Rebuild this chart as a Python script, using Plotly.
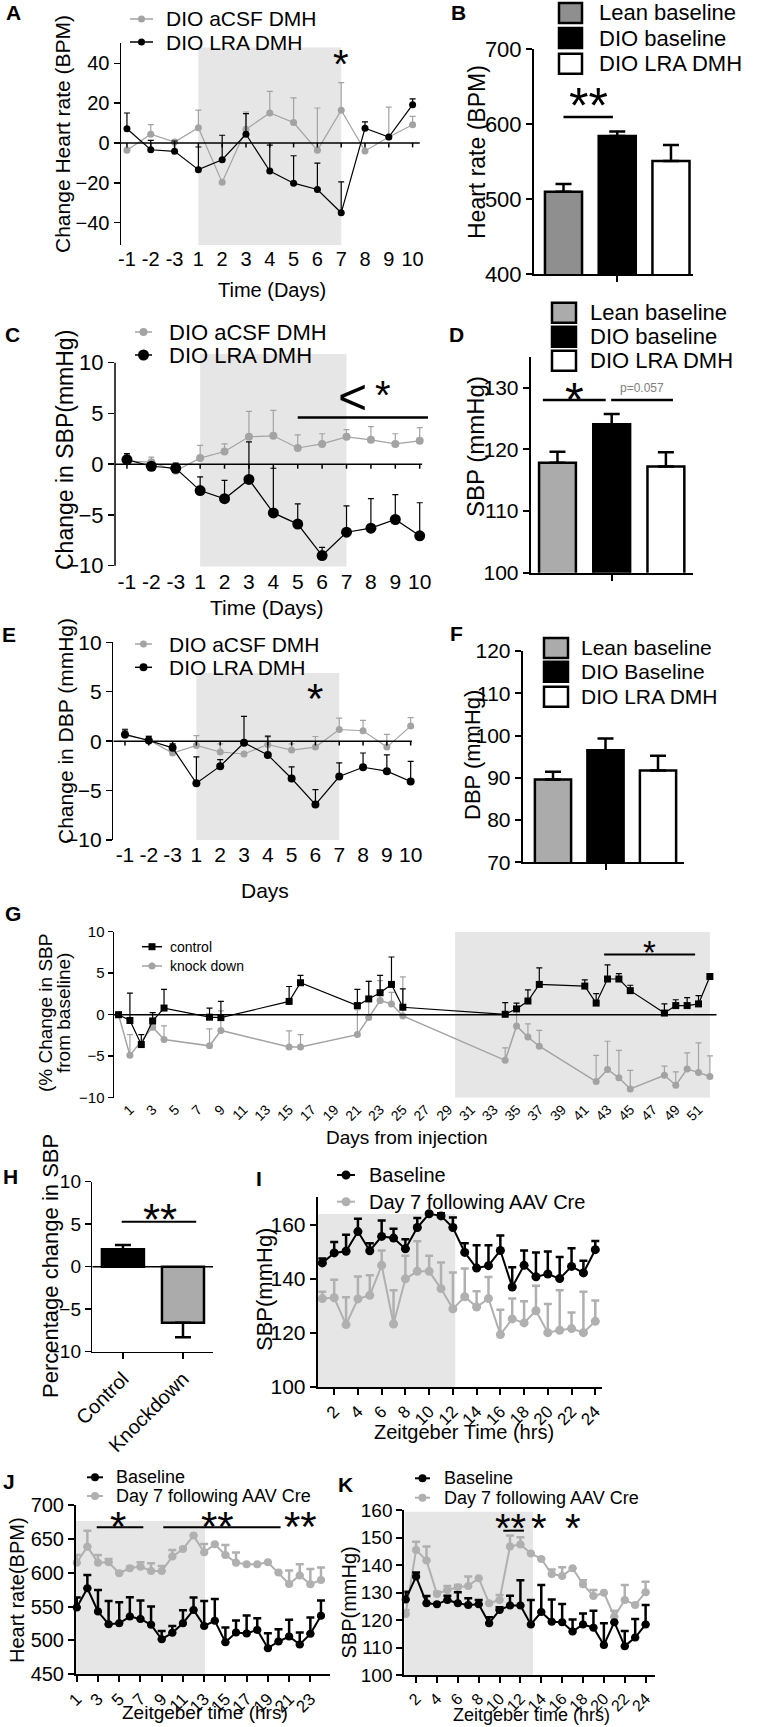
import plotly.graph_objects as go

W, H = 758, 1727
FONT = "Liberation Sans, Arial, Helvetica, sans-serif"
GRAY = "#a3a3a3"
GRAY2 = "#b0b0b0"
GRAYB = "#8f8f8f"
GRAYD = "#ababab"
SHADE = "#e6e6e6"

# ---------------- data ----------------
days_lbl = ["-1", "-2", "-3", "1", "2", "3", "4", "5", "6", "7", "8", "9", "10"]

# A: change in heart rate (BPM)
a_acsf = [-3.7, 4.4, 0.5, 7.7, -19.8, 6.9, 15.1, 10.3, -3.7, 16.5, -4.0, 3.0, 9.2]
a_acsf_sem = [1.0, 4.8, 1.0, 8.8, 0.0, 8.7, 10.9, 12.4, 21.3, 13.9, 0.0, 15.0, 4.2]
a_lra = [7.2, -3.4, -4.2, -13.4, -8.4, 4.4, -14.1, -20.2, -23.4, -35.1, 7.4, 3.0, 19.3]
a_lra_sem = [7.9, 4.7, 5.2, 11.4, 12.3, 10.4, 13.0, 13.8, 13.3, 15.6, 3.2, 0.0, 2.9]

# B: heart rate bars
b_groups = ["Lean baseline", "DIO baseline", "DIO LRA DMH"]
b_vals = [509.7, 584.0, 550.7]
b_sem = [10.3, 6.0, 21.3]

# C: change in SBP
c_acsf = [0.3, 0.2, -0.65, 0.6, 1.25, 2.7, 2.8, 1.6, 2.0, 2.7, 2.4, 2.0, 2.3]
c_acsf_sem = [0.7, 0.5, 0.0, 1.25, 0.75, 2.5, 2.5, 1.3, 1.0, 0.7, 1.3, 1.0, 1.3]
c_lra = [0.45, -0.2, -0.4, -2.6, -3.4, -1.5, -4.8, -5.9, -9.0, -6.7, -6.3, -5.45, -7.06]
c_lra_sem = [0.6, 0.2, 0.5, 1.35, 1.8, 3.7, 4.4, 2.0, 0.8, 2.6, 2.9, 2.45, 3.26]

# D: SBP bars
d_groups = ["Lean baseline", "DIO baseline", "DIO LRA DMH"]
d_vals = [117.8, 124.05, 117.2]
d_sem = [1.8, 1.65, 2.3]

# E: change in DBP
e_acsf = [0.57, 0.13, -1.2, -0.44, -1.1, -1.3, -0.34, -0.9, -0.6, 1.18, 1.05, -0.6, 1.52]
e_acsf_sem = [0.68, 0.44, 0.0, 1.0, 0.83, 0.0, 0.74, 0.63, 1.07, 1.15, 1.05, 1.28, 0.85]
e_lra = [0.68, 0.07, -0.68, -4.26, -2.53, -0.17, -1.39, -3.78, -6.42, -3.58, -2.64, -3.04, -4.08]
e_lra_sem = [0.47, 0.4, 0.41, 2.66, 0.67, 2.67, 1.89, 1.18, 1.52, 1.38, 1.44, 1.66, 2.03]

# F: DBP bars
f_groups = ["Lean baseline", "DIO Baseline", "DIO LRA DMH"]
f_vals = [89.6, 96.5, 91.7]
f_sem = [1.8, 2.8, 3.5]

# G: % change in SBP from baseline
g_ticks = list(range(1, 52, 2))
g_ctrl_days = [0, 1, 2, 3, 4, 8, 9, 15, 16, 21, 22, 23, 24, 25, 34, 35, 36, 37, 41, 42, 43, 44, 45, 48, 49, 50, 51, 52]
g_ctrl = [0, -0.7, -3.6, -0.75, 0.8, -0.3, -0.35, 1.6, 3.85, 1.1, 1.9, 2.65, 3.65, 0.9, 0.05, 0.7, 1.65, 3.65,
          3.45, 1.4, 4.3, 4.3, 2.9, 0.2, 1.1, 1.1, 1.3, 4.6]
g_ctrl_hi = [0, 2.6, -2.4, 0.25, 3.05, 0.8, 1.6, 3.4, 4.75, 3.05, 4.0, 4.75, 6.95, 3.1, 1.45, 1.4, 3.0, 5.65,
             4.2, 2.55, 6.0, 4.95, 3.55, 1.3, 1.8, 2.05, 2.3, 4.6]
g_kd_days = [0, 1, 3, 4, 8, 9, 15, 16, 21, 22, 23, 24, 25, 34, 35, 36, 37, 42, 43, 44, 45, 48, 49, 50, 51, 52]
g_kd = [0, -4.9, -1.5, -3.0, -3.75, -1.9, -3.9, -3.9, -2.4, -0.35, 1.7, 1.3, -0.15, -5.5, -1.35, -2.7, -3.8,
        -8.05, -6.6, -7.6, -8.95, -7.3, -8.5, -6.55, -6.95, -7.45]
g_kd_hi = [0, -2.4, -1.2, -1.35, -1.7, 0.45, -1.95, -2.4, 0.6, 4.1, 4.1, 2.7, 4.55, -4.0, 0.9, -1.1, -1.9,
           -4.9, -3.2, -4.3, -6.7, -6.2, -6.9, -4.6, -3.4, -4.95]

# H: percentage change bars
h_groups = ["Control", "Knockdown"]
h_vals = [2.05, -6.6]
h_sem = [0.5, 1.7]

# I, J, K: zeitgeber time series
zt = list(range(1, 25))
i_base = [145.9, 149.6, 150.2, 157.5, 150.4, 155.7, 155.1, 151.1, 159.0, 164.1, 163.3, 159.0,
          149.8, 144.0, 144.9, 150.5, 137.0, 145.0, 140.8, 141.8, 140.1, 144.6, 142.2, 150.8]
i_base_hi = [147.5, 153.6, 156.3, 162.2, 153.2, 161.6, 158.5, 154.7, 162.5, 164.5, 164.3, 162.7,
             153.2, 152.4, 152.4, 156.0, 144.3, 150.5, 149.8, 150.1, 148.1, 151.3, 146.7, 154.0]
i_aav = [132.7, 133.0, 123.1, 132.6, 133.9, 145.0, 123.3, 140.0, 142.8, 142.8, 136.4, 128.9,
         133.4, 129.6, 132.7, 119.4, 125.2, 123.7, 128.2, 120.1, 121.0, 121.6, 120.1, 124.3]
i_aav_hi = [135.2, 139.7, 133.2, 140.9, 141.3, 150.5, 135.8, 148.6, 153.9, 148.6, 146.1, 142.4,
            143.8, 135.4, 140.7, 128.6, 132.7, 131.7, 137.5, 130.7, 135.8, 127.6, 135.2, 132.0]

j_base = [548.6, 577.1, 542.7, 524.0, 525.4, 535.3, 531.8, 523.0, 501.8, 511.2, 525.4, 545.1,
          521.5, 528.9, 497.4, 511.7, 510.2, 515.6, 488.6, 498.4, 505.8, 494.0, 509.7, 536.3]
j_base_hi = [563.3, 596.7, 574.6, 558.4, 556.4, 563.8, 558.9, 550.0, 514.1, 521.5, 544.6, 563.3,
             558.4, 561.3, 519.1, 529.4, 536.8, 532.9, 510.7, 516.6, 530.4, 511.7, 533.8, 558.9]
j_aav = [614.9, 638.5, 614.9, 615.4, 599.2, 606.6, 609.0, 602.6, 602.6, 623.8, 635.1, 654.8,
         630.2, 642.0, 626.2, 614.9, 612.5, 612.5, 615.4, 600.2, 583.5, 595.8, 583.0, 589.4]
j_aav_hi = [626.2, 662.1, 626.2, 620.3, 602.0, 609.0, 615.4, 614.0, 610.0, 633.6, 637.0, 654.8,
            642.5, 642.0, 641.0, 629.7, 612.5, 612.5, 615.4, 600.2, 603.1, 612.5, 605.6, 607.6]

k_base = [127.5, 135.8, 126.1, 125.7, 127.3, 126.1, 125.5, 125.7, 118.8, 123.6, 125.3, 125.3,
          118.4, 122.9, 119.4, 119.2, 115.8, 118.4, 117.2, 110.9, 119.2, 110.5, 113.6, 118.4]
k_base_hi = [130.3, 137.3, 128.7, 125.7, 128.8, 130.1, 127.9, 127.3, 121.0, 124.6, 128.8, 134.5,
             127.3, 132.7, 127.5, 125.8, 120.2, 122.4, 123.4, 118.8, 119.2, 116.0, 120.4, 125.5]
k_aav = [122.2, 145.5, 141.6, 129.5, 130.9, 131.9, 132.4, 135.2, 126.1, 127.3, 146.7, 147.5,
         144.2, 142.2, 136.7, 136.0, 138.8, 133.0, 128.7, 129.9, 121.2, 127.3, 125.5, 130.1]
k_aav_hi = [123.6, 148.5, 146.7, 130.3, 132.4, 132.7, 135.8, 135.2, 126.1, 129.1, 150.7, 150.1,
            144.2, 142.2, 138.4, 139.2, 138.8, 134.5, 130.9, 129.9, 123.4, 132.7, 126.1, 133.9]

# ---------------- helpers ----------------
day_idx = list(range(len(days_lbl)))

fig = go.Figure()
layout = dict(template="none", width=W, height=H, autosize=False,
              margin=dict(l=0, r=0, t=0, b=0, pad=0, autoexpand=False),
              paper_bgcolor="white", plot_bgcolor="rgba(0,0,0,0)",
              showlegend=False, font=dict(family=FONT, color="black", size=16))
shapes, annots = [], []


def sfx(n):
    return "" if n == 1 else str(n)


def X(n):
    return "x" + sfx(n)


def Y(n):
    return "y" + sfx(n)


def axes(n, box, xr, yr, yfont, xkw=None, ykw=None, lw=1.5):
    l, r, t, b = box
    xa = dict(domain=[l / W, r / W], range=xr, anchor=Y(n), showgrid=False, automargin=False,
              zeroline=False, showline=False, ticks="", showticklabels=False,
              linecolor="black", tickcolor="black", linewidth=lw, tickwidth=lw,
              tickfont=dict(size=18, color="black", family=FONT))
    ya = dict(domain=[1 - b / H, 1 - t / H], range=yr, anchor=X(n), showgrid=False, automargin=False,
              zeroline=False, showline=True, linecolor="black", linewidth=lw,
              ticks="outside", ticklen=6, tickwidth=lw, tickcolor="black",
              tickmode="array", tickfont=dict(size=yfont, color="black", family=FONT))
    if xkw:
        xa.update(xkw)
    if ykw:
        ya.update(ykw)
    layout["xaxis" + sfx(n)] = xa
    layout["yaxis" + sfx(n)] = ya


def txt(s, x, y, size, xa="center", ya="middle", angle=0, color="black", bold=False, ref=None, yshift=0):
    if ref is None:
        xr_, yr_, xx, yy = "paper", "paper", x / W, 1 - y / H
    else:
        xr_, yr_, xx, yy = X(ref), Y(ref), x, y
    if bold:
        s = "<b>" + s + "</b>"
    annots.append(dict(text=s, x=xx, y=yy, xref=xr_, yref=yr_, xanchor=xa, yanchor=ya,
                       textangle=angle, showarrow=False, yshift=yshift, borderpad=0,
                       font=dict(size=size, color=color, family=FONT)))


def star(n, x, y, s, size):
    txt(s, x, y, size, ref=n, yshift=-0.23 * size)


def dline(n, x0, y0, x1, y1, w=1.5, color="black", xref=None):
    shapes.append(dict(type="line", xref=xref or X(n), yref=Y(n), x0=x0, y0=y0, x1=x1, y1=y1,
                       line=dict(color=color, width=w)))


def shade(n, x0, x1, y0, y1):
    shapes.append(dict(type="rect", layer="below", xref=X(n), yref=Y(n), x0=x0, x1=x1, y0=y0, y1=y1,
                       fillcolor=SHADE, line=dict(width=0)))


def zero_axis(n, x0, x1, ticks, tlen, w=1.5):
    dline(n, x0, 0, x1, 0, w)
    for t in ticks:
        dline(n, t, 0, t, -tlen, w)


def leg_line(x0, x1, y, color, msize, label, tx, size, symbol="circle", lw=1.5):
    shapes.append(dict(type="line", xref="paper", yref="paper", x0=x0 / W, x1=x1 / W,
                       y0=1 - y / H, y1=1 - y / H, line=dict(color=color, width=lw)))
    xc, r = (x0 + x1) / 2, msize / 2
    shapes.append(dict(type="circle" if symbol == "circle" else "rect", xref="paper", yref="paper",
                       x0=(xc - r) / W, x1=(xc + r) / W, y0=1 - (y + r) / H, y1=1 - (y - r) / H,
                       fillcolor=color, line=dict(color=color, width=0)))
    txt(label, tx, y, size, xa="left")


def leg_box(x0, x1, yc, h, fill, label, tx, size):
    shapes.append(dict(type="rect", xref="paper", yref="paper", x0=x0 / W, x1=x1 / W,
                       y0=1 - (yc + h / 2) / H, y1=1 - (yc - h / 2) / H,
                       fillcolor=fill, line=dict(color="black", width=2.5)))
    txt(label, tx, yc, size, xa="left")


def series(n, x, y, err, color, msize, lw=1.2, symbol="circle", et=1.2, ew=3):
    fig.add_trace(go.Scatter(
        x=x, y=y, xaxis=X(n), yaxis=Y(n), mode="lines+markers",
        line=dict(color=color, width=lw),
        marker=dict(color=color, size=msize, symbol=symbol, line=dict(width=0)),
        error_y=dict(type="data", symmetric=False, array=err, arrayminus=[0] * len(err),
                     color=color, thickness=et, width=ew),
        cliponaxis=False, hoverinfo="skip"))


def bars(n, vals, up, colors, width, down=None, lw=2.5):
    xs = list(range(len(vals)))
    fig.add_trace(go.Bar(
        x=xs, y=vals, xaxis=X(n), yaxis=Y(n), width=width,
        marker=dict(color=colors, line=dict(color="black", width=lw)),
        error_y=dict(type="data", symmetric=False, array=up,
                     arrayminus=down if down else [0] * len(vals),
                     color="black", thickness=lw, width=8),
        hoverinfo="skip"))


def err_from_hi(hi, vals):
    return [max(h - v, 0) for h, v in zip(hi, vals)]


def bar_x(extra=None):
    d = dict(showline=True, ticks="outside", ticklen=6, tickvals=[1], showticklabels=False)
    if extra:
        d.update(extra)
    return d


# ---------------- Panel A ----------------
axes(1, (121, 420, 43, 245), [-0.25, 12.31], [-51.3, 50.3], 20,
     xkw=dict(showticklabels=True, tickmode="array", tickvals=day_idx, ticktext=days_lbl,
              tickangle=0, tickfont=dict(size=20, family=FONT, color="black")),
     ykw=dict(tickvals=[-40, -20, 0, 20, 40]))
shade(1, 3, 9, -51.3, 48)
zero_axis(1, -0.25, 12.3, day_idx, 2.2)
series(1, day_idx, a_acsf, a_acsf_sem, GRAY, 7)
series(1, day_idx, a_lra, a_lra_sem, "black", 7)
star(1, 9, 44.3, "*", 40)
leg_line(130, 153, 19, GRAY, 7, "DIO aCSF DMH", 165, 21)
leg_line(130, 153, 42, "black", 7, "DIO LRA DMH", 165, 21)
txt("Change Heart rate (BPM)", 63, 134, 21, angle=-90)
txt("Time (Days)", 272, 290, 20)
txt("A", 13, 13, 21, bold=True)

# ---------------- Panel B ----------------
axes(2, (534, 693, 49, 274), [-0.549, 2.41], [400, 700], 22, xkw=bar_x(), lw=2,
     ykw=dict(tickvals=[400, 500, 600, 700]))
bars(2, b_vals, b_sem, [GRAYB, "black", "white"], 0.69)
dline(2, 0.0, 609.3, 0.92, 609.3, 2.5)
star(2, 0.46, 638.7, "**", 50)
leg_box(559, 582, 13, 20, GRAYB, b_groups[0], 598, 22)
leg_box(559, 582, 38, 20, "black", b_groups[1], 598, 22)
leg_box(559, 582, 63.7, 20, "white", b_groups[2], 598, 22)
txt("Heart rate (BPM)", 477, 152, 23, angle=-90)
txt("B", 458, 13, 21, bold=True)

# ---------------- Panel C ----------------
axes(3, (115, 428, 354, 566.7), [-0.49, 12.34], [-10.1, 10.86], 22,
     xkw=dict(showticklabels=True, tickmode="array", tickvals=day_idx, ticktext=days_lbl,
              tickangle=0, tickfont=dict(size=21, family=FONT, color="black")),
     ykw=dict(tickvals=[-10, -5, 0, 5, 10], showline=False))
shapes.append(dict(type="line", xref="paper", yref="y3", x0=115 / W, x1=115 / W, y0=-10, y1=10,
                   line=dict(color="black", width=1.5)))
shade(3, 3, 9, -10.1, 10.86)
zero_axis(3, -0.49, 12.1, day_idx, 0.45)
series(3, day_idx, c_acsf, c_acsf_sem, GRAY, 8)
series(3, day_idx, c_lra, c_lra_sem, "black", 11)
dline(3, 7.0, 4.6, 12.34, 4.6, 2.5)
txt("<", 9.26, 6.6, 50, ref=3)
star(3, 10.5, 7.7, "*", 40)
leg_line(135, 152, 332, GRAY, 8, "DIO aCSF DMH", 168, 22)
leg_line(135, 152, 355, "black", 11, "DIO LRA DMH", 168, 22)
txt("Change in SBP(mmHg)", 65, 450, 23, angle=-90)
txt("Time (Days)", 267, 607, 21)
txt("C", 12, 334, 21, bold=True)

# ---------------- Panel D ----------------
axes(4, (530.7, 693, 356.7, 572.7), [-0.494, 2.50], [100, 135], 21, xkw=bar_x(), lw=2,
     ykw=dict(tickvals=[100, 110, 120, 130]))
bars(4, d_vals, d_sem, [GRAYD, "black", "white"], 0.68)
dline(4, -0.27, 128, 0.89, 128, 2.5)
dline(4, 0.99, 128, 2.13, 128, 2.5)
star(4, 0.31, 129.9, "*", 48)
txt("p=0.057", 1.56, 129.9, 12, color="#808080", ref=4)
leg_box(552, 576, 312.7, 20, GRAYD, d_groups[0], 589, 22)
leg_box(552, 576, 336.7, 20, "black", d_groups[1], 589, 22)
leg_box(552, 576, 360.7, 20, "white", d_groups[2], 589, 22)
txt("SBP (mmHg)", 475, 447, 24, angle=-90)
txt("D", 456, 335, 21, bold=True)

# ---------------- Panel E ----------------
axes(5, (113.3, 414, 642.3, 840), [-0.49, 12.14], [-10, 10], 21,
     xkw=dict(showticklabels=True, tickmode="array", tickvals=day_idx, ticktext=days_lbl,
              tickangle=0, tickfont=dict(size=21, family=FONT, color="black")),
     ykw=dict(tickvals=[-10, -5, 0, 5, 10]))
shade(5, 3, 9, -10, 6.9)
zero_axis(5, -0.49, 12.05, day_idx, 0.45)
series(5, day_idx, e_acsf, e_acsf_sem, GRAY, 7)
series(5, day_idx, e_lra, e_lra_sem, "black", 8)
star(5, 8, 5.3, "*", 42)
leg_line(135, 152, 644, GRAY, 7, "DIO aCSF DMH", 168, 21)
leg_line(135, 152, 667.3, "black", 8, "DIO LRA DMH", 168, 21)
txt("Change in DBP (mmHg)", 65, 731, 21, angle=-90)
txt("Days", 265, 890, 21)
txt("E", 9, 634, 21, bold=True)

# ---------------- Panel F ----------------
axes(6, (522.7, 684, 651, 862.3), [-0.577, 2.495], [70, 120], 21, xkw=bar_x(), lw=2,
     ykw=dict(tickvals=[70, 80, 90, 100, 110, 120]))
bars(6, f_vals, f_sem, [GRAYD, "black", "white"], 0.69)
leg_box(544, 568, 648, 20, GRAYD, f_groups[0], 580, 21)
leg_box(544, 568, 671.7, 20, "black", f_groups[1], 580, 21)
leg_box(544, 568, 696.7, 20, "white", f_groups[2], 580, 21)
txt("DBP (mmHg)", 472, 755, 22, angle=-90)
txt("F", 456, 633, 21, bold=True)

# ---------------- Panel G ----------------
axes(7, (114, 716.7, 931.7, 1097.7), [-0.4, 52.6], [-10, 10], 15,
     xkw=dict(showticklabels=True, tickmode="array", tickvals=g_ticks, tickangle=-45,
              tickfont=dict(size=14, family=FONT, color="black")),
     ykw=dict(tickvals=[-10, -5, 0, 5, 10], ticklen=5))
shade(7, 29.6, 52.0, -10, 10)
dline(7, -0.4, 0, 52.6, 0, 1.5)
series(7, g_kd_days, g_kd, err_from_hi(g_kd_hi, g_kd), GRAY, 7, lw=1.5)
series(7, g_ctrl_days, g_ctrl, err_from_hi(g_ctrl_hi, g_ctrl), "black", 7, symbol="square", lw=1.2)
dline(7, 42.7, 7.26, 50.7, 7.26, 2)
star(7, 46.7, 8.35, "*", 33)
leg_line(142, 162, 946.7, "black", 7, "control", 169, 14, symbol="square")
leg_line(142, 162, 966, GRAY, 7, "knock down", 169, 14)
txt("(% Change in SBP", 46, 1013, 19, angle=-90)
txt("from baseline)", 64, 1013, 19, angle=-90)
txt("Days from injection", 407, 1137, 19)
txt("G", 13, 913, 21, bold=True)

# ---------------- Panel H ----------------
axes(8, (92.3, 213, 1181.7, 1351.7), [-0.51, 1.5], [-10, 10], 19,
     xkw=dict(showline=True, ticks="outside", ticklen=6, tickmode="array", tickvals=[0, 1],
              ticktext=h_groups, showticklabels=True, tickangle=-45,
              tickfont=dict(size=20, family=FONT, color="black")),
     ykw=dict(tickvals=[-10, -5, 0, 5, 10]))
dline(8, -0.51, 0, 1.5, 0, 1.5)
bars(8, h_vals, [h_sem[0], 0], ["black", GRAYD], 0.7, down=[0, h_sem[1]])
dline(8, -0.02, 5.3, 1.22, 5.3, 2)
star(8, 0.62, 6.8, "**", 44)
txt("Percentage change in SBP", 50, 1266, 22, angle=-90)
txt("H", 10, 1176, 21, bold=True)

# ---------------- Panel I ----------------
axes(9, (317.7, 601.7, 1196.7, 1387), [0.61, 24.54], [100, 170.4], 21, lw=2,
     xkw=dict(showline=True, ticks="outside", ticklen=6, tickmode="array", tickvals=list(range(2, 25, 2)),
              showticklabels=True, tickangle=-45, tickfont=dict(size=17, family=FONT, color="black")),
     ykw=dict(tickvals=[100, 120, 140, 160]))
shade(9, 0.61, 12.2, 100, 164)
series(9, zt, i_aav, err_from_hi(i_aav_hi, i_aav), GRAY2, 9, lw=2, et=2.5, ew=4)
series(9, zt, i_base, err_from_hi(i_base_hi, i_base), "black", 9, lw=2, et=2.5, ew=4)
leg_line(337, 355, 1175, "black", 9, "Baseline", 368, 20, lw=2)
leg_line(337, 355, 1201.7, GRAY2, 9, "Day 7 following AAV Cre", 368, 20, lw=2)
txt("SBP(mmHg)", 264, 1290, 22, angle=-90)
txt("Zeitgeber Time (hrs)", 464, 1432, 20)
txt("I", 259, 1178, 21, bold=True)

# ---------------- Panel J ----------------
axes(10, (76, 330, 1505, 1674.3), [0.93, 24.85], [450, 700], 20, lw=2,
     xkw=dict(showline=True, ticks="outside", ticklen=6, tickmode="array", tickvals=list(range(1, 24, 2)),
              showticklabels=True, tickangle=-45, tickfont=dict(size=17, family=FONT, color="black")),
     ykw=dict(tickvals=[450, 500, 550, 600, 650, 700]))
shade(10, 0.93, 13.08, 450, 676.4)
series(10, zt, j_aav, err_from_hi(j_aav_hi, j_aav), GRAY2, 8, lw=2, et=2.5, ew=4)
series(10, zt, j_base, err_from_hi(j_base_hi, j_base), "black", 8, lw=2, et=2.5, ew=4)
dline(10, 2.88, 667, 7.27, 667, 2)
dline(10, 9.15, 667, 20.2, 667, 2)
star(10, 4.92, 682.7, "*", 42)
star(10, 14.3, 682.7, "**", 42)
star(10, 22.1, 682.7, "**", 42)
leg_line(87, 103, 1477.3, "black", 8, "Baseline", 115, 18, lw=2)
leg_line(87, 103, 1496, GRAY2, 8, "Day 7 following AAV Cre", 115, 18, lw=2)
txt("Heart rate(BPM)", 17, 1590, 20, angle=-90)
txt("Zeitgeber time (hrs)", 205, 1712.7, 19)
txt("J", 9, 1481, 21, bold=True)

# ---------------- Panel K ----------------
axes(11, (404.3, 655, 1510, 1675), [0.87, 24.9], [100, 160], 19, lw=2,
     xkw=dict(showline=True, ticks="outside", ticklen=6, tickmode="array", tickvals=list(range(2, 25, 2)),
              showticklabels=True, tickangle=-45, tickfont=dict(size=16, family=FONT, color="black")),
     ykw=dict(tickvals=[100, 110, 120, 130, 140, 150, 160]))
shade(11, 0.87, 13.2, 100, 159.4)
series(11, zt, k_aav, err_from_hi(k_aav_hi, k_aav), GRAY2, 8, lw=2, et=2.5, ew=4)
series(11, zt, k_base, err_from_hi(k_base_hi, k_base), "black", 8, lw=2, et=2.5, ew=4)
dline(11, 10.36, 152.5, 12.34, 152.5, 2)
star(11, 11.07, 156.7, "**", 40)
star(11, 13.8, 156.7, "*", 40)
star(11, 17.0, 156.7, "*", 40)
leg_line(415, 430, 1478.3, "black", 8, "Baseline", 442.7, 18, lw=2)
leg_line(415, 430, 1497.7, GRAY2, 8, "Day 7 following AAV Cre", 442.7, 18, lw=2)
txt("SBP(mmHg)", 348.5, 1603, 20, angle=-90)
txt("Zeitgeber time (hrs)", 531.7, 1715, 18)
txt("K", 345, 1484, 21, bold=True)

layout["shapes"] = shapes
layout["annotations"] = annots
fig.update_layout(**layout)
fig.write_html("out.html", config={"displayModeBar": False, "staticPlot": True},
               post_script="document.body.style.margin='0';document.body.style.overflow='hidden';")
